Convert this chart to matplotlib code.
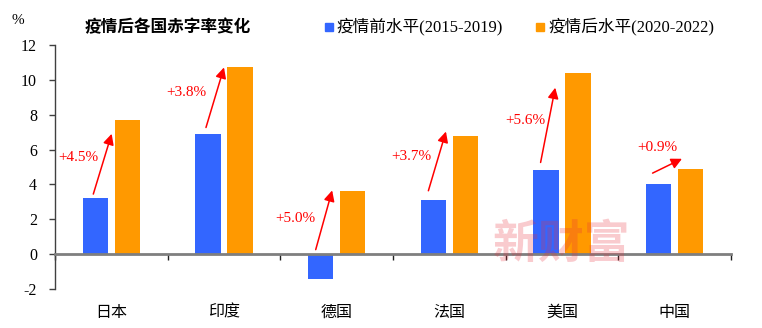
import matplotlib
matplotlib.use("Agg")
import matplotlib.pyplot as plt
from matplotlib.patches import Rectangle
import numpy as np

# ---- data -------------------------------------------------------------
countries = ["日本", "印度", "德国", "法国", "美国", "中国"]
pre_covid = [3.2, 6.9, -1.4, 3.1, 4.8, 4.0]      # 2015-2019 average deficit ratio, %
post_covid = [7.7, 10.7, 3.6, 6.8, 10.4, 4.9]    # 2020-2022 average deficit ratio, %
y_ticks = [-2, 0, 2, 4, 6, 8, 10, 12]

title = "疫情后各国赤字率变化"
legend_labels = ["疫情前水平(2015-2019)", "疫情后水平(2020-2022)"]

# ---- layout for the change arrows (x offsets from category centre) ----
tail_dx = [-0.16, -0.16, -0.186, -0.186, -0.19, -0.196]
tail_y = [3.45, 7.26, 0.27, 3.64, 5.26, 4.65]
head_dx = [0.003, 0.0, -0.04, -0.03, -0.06, 0.065]
head_y = [6.9, 10.7, 3.66, 7.03, 9.54, 5.47]
label_dx = [-0.29, -0.33, -0.37, -0.335, -0.327, -0.155]
label_y = [5.53, 9.24, 2.04, 5.58, 7.64, 6.1]

BLUE = "#3366FF"
ORANGE = "#FF9900"
SERIF = ["Liberation Serif", "Noto Sans CJK SC"]
CJK = ["Noto Sans CJK SC", "DejaVu Sans"]

W, H = 762, 328
fig = plt.figure(figsize=(W / 100, H / 100), dpi=100)
ax = fig.add_axes([55 / W, 1 - 289.3 / H, (731 - 55) / W, (289.3 - 44.7) / H])

x = np.arange(len(countries))
bw = 0.225
off = 0.142
ax.bar(x - off, pre_covid, bw, color=BLUE, zorder=2)
ax.bar(x + off, post_covid, bw, color=ORANGE, zorder=2)

ax.set_xlim(-0.5, len(countries) - 0.5)
ax.set_ylim(-2, 12)
ax.set_yticks(y_ticks)
ax.set_yticklabels([str(v) for v in y_ticks], family=SERIF, fontsize=11.5)
ax.tick_params(axis="y", direction="out", length=4, width=1, color="#404040", pad=9)

# zero line as the bottom spine, ticks at category boundaries
for s in ["top", "right"]:
    ax.spines[s].set_visible(False)
ax.spines["left"].set_color("#404040")
ax.spines["left"].set_linewidth(1)
ax.spines["bottom"].set_position(("data", 0))
ax.spines["bottom"].set_color("#7f7f7f")
ax.spines["bottom"].set_linewidth(2)
ax.spines["bottom"].set_zorder(3)
ax.set_xticks(np.arange(-0.5, len(countries), 1.0))
ax.set_xticklabels([])
ax.tick_params(axis="x", direction="out", length=4, width=1, color="#202020")

for i, name in enumerate(countries):
    ax.text(i, -3.3, name, ha="center", va="center", family=CJK, fontsize=11.5,
            clip_on=False)

# change arrows and labels
for i in range(len(countries)):
    diff = post_covid[i] - pre_covid[i]
    ax.annotate("", xy=(i + head_dx[i], head_y[i]), xytext=(i + tail_dx[i], tail_y[i]),
                arrowprops=dict(arrowstyle="-|>", color="#FF0000", lw=1.1,
                                mutation_scale=16, shrinkA=0, shrinkB=0), zorder=4)
    ax.text(i + label_dx[i], label_y[i], f"+{diff:.1f}%", color="#FF0000",
            ha="center", va="center", family=SERIF, fontsize=11, zorder=4)

# watermark
ax.text(4.0, 0.55, "新财富", color="#E8303F", alpha=0.25, fontsize=33,
        fontweight="bold", family=CJK, ha="center", va="center", zorder=5)

# title, unit, legend
fig.text(85 / W, 1 - 27 / H, title, family=CJK, fontsize=12, fontweight="bold",
         ha="left", va="center")
fig.text(12 / W, 1 - 20 / H, "%", family=SERIF, fontsize=11, ha="left", va="center")

for (mx, tx, col, lab) in [(325, 336, BLUE, legend_labels[0]),
                           (536, 548, ORANGE, legend_labels[1])]:
    fig.add_artist(Rectangle((mx / W, 1 - 30.5 / H), 7.5 / W, 7.5 / H,
                             transform=fig.transFigure, color=col))
    fig.text(tx / W, 1 - 26.5 / H, lab, family=["Liberation Serif", "Noto Sans CJK SC"],
             fontsize=12, ha="left", va="center")

fig.savefig("out.png", dpi=100)
